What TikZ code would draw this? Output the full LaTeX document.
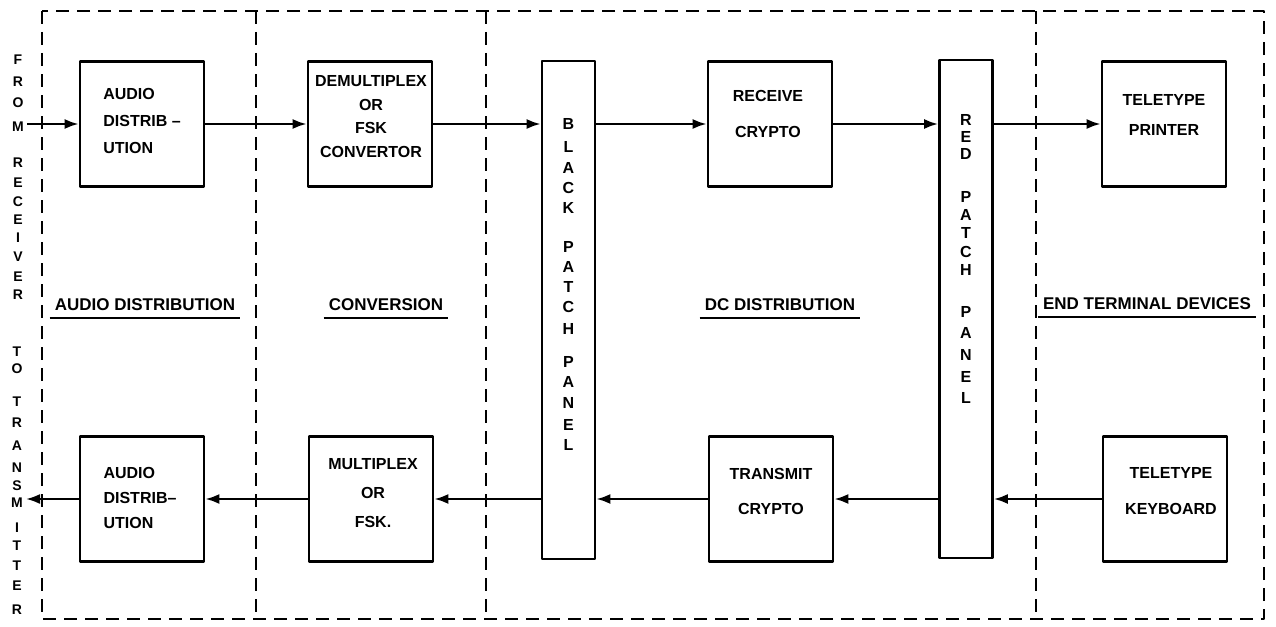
\documentclass[tikz,border=0pt]{standalone}
\usepackage{fontspec}
\setmainfont{Liberation Sans}
\usetikzlibrary{arrows.meta}
\tikzset{
  unit/.style={draw, line width=2.7pt, minimum width=124pt, minimum height=125pt, inner sep=0pt},
  panel/.style={draw, line width=2.7pt, minimum width=53pt, minimum height=498pt, inner sep=0pt},
  boxtxt/.style={font=\fontsize{16}{#1}\selectfont\bfseries, align=center, inner sep=0pt},
  letter/.style={font=\fontsize{#1}{#1}\selectfont\bfseries, inner sep=0pt},
  sect/.style={font=\fontsize{17}{17}\selectfont\bfseries, inner xsep=5pt, inner ysep=7pt},
  zone/.style={dash pattern=on 13pt off 8pt, line width=2.7pt},
  conn/.style={line width=2.3pt, ->},
  uline/.style={line width=2pt}
}
\begin{document}
\begin{tikzpicture}[x=1pt, y=-1pt, >={Latex[length=14pt,width=10pt]}, line join=round]
            \useasboundingbox (0,0) rectangle (1276,626);
            % dashed zones
            \draw[zone] (42,11) rectangle (1264,619);
            \foreach \x in {256,486,1036} \draw[zone] (\x,11) -- (\x,619);
            % receive row
            \node[unit] (audA) at (142,124) {};
            \node[boxtxt=27, align=left] (audAT) at (142,120.5) {AUDIO\\DISTRIB --\\UTION};
            \node[unit] (demux) at (370,124) {};
            \node[boxtxt=23.5] (demuxT) at (371,116.5) {DEMULTIPLEX\\OR\\FSK\\CONVERTOR};
            \node[unit] (rcv) at (770,124) {};
            \node[boxtxt=36] (rcvT) at (768,114) {RECEIVE\\CRYPTO};
            \node[unit] (prn) at (1164,124) {};
            \node[boxtxt=30] (prnT) at (1164,115) {TELETYPE\\PRINTER};
            % transmit row
            \node[unit] (audB) at (142,499) {};
            \node[boxtxt=25, align=left] (audBT) at (140,498) {AUDIO\\DISTRIB--\\UTION};
            \node[unit] (mux) at (371,499) {};
            \node[boxtxt=29] (muxT) at (373,493) {MULTIPLEX\\OR\\FSK.};
            \node[unit] (xmt) at (771,499) {};
            \node[boxtxt=35] (xmtT) at (771,491.5) {TRANSMIT\\CRYPTO};
            \node[unit] (kbd) at (1165,499) {};
            \node[boxtxt=36] (kbdT) at (1171,491) {TELETYPE\\KEYBOARD};
            % patch panels
            \node[panel] (black) at (568.5,310) {};
            \node[panel] (red) at (966,309) {};
            \foreach \c/\y [count=\i] in {B/124,L/147,A/168,C/188,K/208,P/247,A/267,T/287,C/307,H/329,P/362,A/382,N/403,E/425,L/445}
                \node[letter=16] (blk\i) at (568.5,\y) {\c};
            \foreach \c/\y [count=\i] in {R/120,E/137,D/154,P/197,A/215,T/233,C/252,H/270,P/312,A/333,N/355,E/377,L/398}
                \node[letter=16] (red\i) at (966,\y) {\c};
            % side texts
            \foreach \c/\y [count=\i] in {F/60,R/82,O/103,M/127,R/163,E/183,C/202,E/220,I/238,V/257,E/277,R/295}
                \node[letter=14] (fr\i) at (18,\y) {\c};
            \foreach \c/\y [count=\i] in {T/352,O/369,T/402,R/423,A/446,N/468,S/486,M/503,I/528,T/546,T/566,E/586,R/610}
                \node[letter=14] (to\i) at (17,\y) {\c};
            \coordinate (rxin) at (27,124);
            \coordinate (txout) at (26,499);
            % section titles
            \node[sect] (secAud) at (145,305) {AUDIO DISTRIBUTION};
            \node[sect] (secConv) at (386,305) {CONVERSION};
            \node[sect] (secDC) at (780,305) {DC DISTRIBUTION};
            \node[sect] (secEnd) at (1147,304) {END TERMINAL DEVICES};
            \foreach \s in {secAud,secConv,secDC,secEnd} \draw[uline] (\s.south west) -- (\s.south east);
            % signal paths
            \draw[conn] (rxin) -- (audA.west);
            \draw[conn] (audA.east) -- (demux.west);
            \draw[conn] (demux.east) -- (demux.east -| black.west);
            \draw[conn] (black.east |- rcv.west) -- (rcv.west);
            \draw[conn] (rcv.east) -- (rcv.east -| red.west);
            \draw[conn] (red.east |- prn.west) -- (prn.west);
            \draw[conn] (kbd.west) -- (kbd.west -| red.east);
            \draw[conn] (red.west |- xmt.east) -- (xmt.east);
            \draw[conn] (xmt.west) -- (xmt.west -| black.east);
            \draw[conn] (black.west |- mux.east) -- (mux.east);
            \draw[conn] (mux.west) -- (audB.east);
            \draw[conn] (audB.west) -- (txout);
    \end{tikzpicture}
\end{document}
